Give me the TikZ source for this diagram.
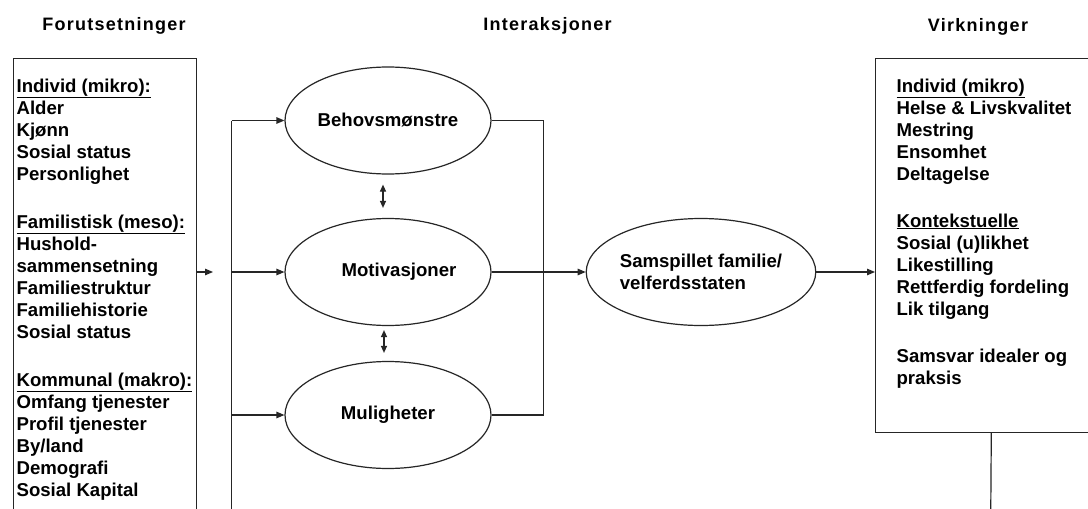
\documentclass[tikz,border=0pt]{standalone}
\usepackage{fontspec}
\setmainfont{Liberation Sans}
\newfontfamily\hdrfont[LetterSpace=7]{Liberation Sans}
\usetikzlibrary{shapes.geometric,arrows.meta}
\tikzset{
  hdr/.style={font=\hdrfont\bfseries\fontsize{18}{21}\selectfont, anchor=base, inner sep=0pt},
  txt/.style={font=\bfseries\fontsize{18.6}{22}\selectfont, align=left, inner sep=0pt, anchor=north west},
  oval/.style={draw=black!85, ellipse, minimum width=206pt, minimum height=107pt, inner sep=0pt,
    font=\bfseries\fontsize{18.6}{22}\selectfont, align=left},
  box/.style={draw=black!85, rectangle, inner sep=0pt, anchor=north west},
  ln/.style={draw=black!85},
  arr/.style={ln, -{Triangle[length=8pt,width=6.5pt]}},
  dbl/.style={ln, {Triangle[length=7pt,width=6pt]}-{Triangle[length=7pt,width=6pt]}}
}
\begin{document}
\begin{tikzpicture}[x=1pt, y=-1pt, line width=1.2pt]
\useasboundingbox (0,0) rectangle (1088,509);
\fill[white] (0,0) rectangle (1088,509);
\clip (0,0) rectangle (1088,509);

% headers
\node[hdr] (h1) at (114,30.7) {Forutsetninger};
\node[hdr] (h2) at (547.5,30.7) {Interaksjoner};
\node[hdr] (h3) at (978,31) {Virkninger};

% left box
\node[box, minimum width=182.5pt, minimum height=480pt] (lbox) at (13,58) {};
\node[txt] (ltext) at (16,78) {\underline{Individ (mikro):}\\
Alder\\
Kjønn\\
Sosial status\\
Personlighet\\[26pt]
\underline{Familistisk (meso):}\\
Hushold-\\
sammensetning\\
Familiestruktur\\
Familiehistorie\\
Sosial status\\[26pt]
\underline{Kommunal (makro):}\\
Omfang tjenester\\
Profil tjenester\\
By/land\\
Demografi\\
Sosial Kapital};

% right box
\node[box, minimum width=231.4pt, minimum height=374pt] (rbox) at (875,58) {};
\node[txt] (rtext) at (896,78) {\underline{Individ (mikro)}\\
Helse \& Livskvalitet\\
Mestring\\
Ensomhet\\
Deltagelse\\[25pt]
\underline{Kontekstuelle}\\
Sosial (u)likhet\\
Likestilling\\
Rettferdig fordeling\\
Lik tilgang\\[25pt]
Samsvar idealer og\\
praksis};

% ellipses
\node[oval] (beh) at (388,120.5) {Behovsmønstre};
\node[oval] (mot) at (388,272) {\hspace*{22pt}Motivasjoner};
\node[oval] (mul) at (388,415) {Muligheter};
\node[oval] (sam) at (701,272) {Samspillet familie/\\velferdsstaten};

% left stub arrow
\coordinate (stub) at (213,272);
\draw[arr] (lbox.east |- mot.west) -- (stub);

% distribution bus
\coordinate (busTop) at (231.7,120.5);
\coordinate (busBot) at (231.7,520);
\draw[ln] (busBot) -- (busTop);
\draw[arr] (busTop) -- (beh.west);
\draw[arr] (busTop |- mot.west) -- (mot.west);
\draw[arr] (busTop |- mul.west) -- (mul.west);

% double arrows
\draw[dbl, shorten <=10pt, shorten >=10pt] ([xshift=-5pt]beh.south) -- ([xshift=-5pt]mot.north);
\draw[dbl, shorten <=4pt, shorten >=8pt] ([xshift=-4pt]mot.south) -- ([xshift=-4pt]mul.north);

% collector on the right
\coordinate (rbus) at (543.3,272);
\draw[ln] (beh.east) -| (rbus) |- (mul.east);
\draw[arr] (mot.east) -- (sam.west);
\draw[arr] (sam.east) -- (rbox.west |- sam.east);

% line down from right box
\coordinate (rbot) at (990.7,520);
\draw[ln] (rbox.south) -- (rbot);
\end{tikzpicture}
\end{document}
